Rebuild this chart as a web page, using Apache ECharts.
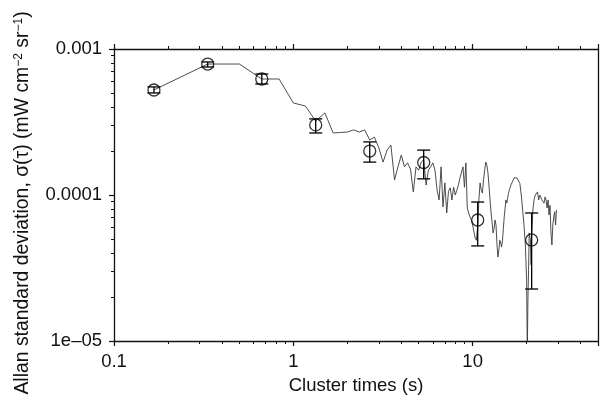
<!DOCTYPE html>
<html lang="en">
<head>
  <meta charset="UTF-8">
  <title>Allan deviation</title>
  <script src="https://cdn.jsdelivr.net/npm/echarts@6/dist/echarts.min.js"></script>
  <style>
    html, body { margin: 0; padding: 0; background: #fff; }
    #chart { width: 601px; height: 405px; }
  </style>
</head>
<body>
  <div id="chart"></div>
  <script>
    // Allan deviation curve (cluster time in s, sigma)
    const lineTau = [0.167, 0.333, 0.5, 0.667, 0.833, 1, 1.167, 1.333, 1.5, 1.667,
      1.833, 2, 2.167, 2.333, 2.5, 2.667, 2.833, 3, 3.167, 3.333,
      3.5, 3.667, 3.833, 4, 4.167, 4.333, 4.5, 4.667, 4.833, 5,
      5.167, 5.333, 5.5, 5.667, 5.833, 6, 6.167, 6.333, 6.5, 6.667,
      6.833, 7, 7.167, 7.333, 7.5, 7.667, 7.833, 8, 8.167, 8.333,
      8.5, 8.667, 8.833, 9, 9.167, 9.333, 9.5, 9.667, 9.833, 10,
      10.17, 10.33, 10.5, 10.67, 10.83, 11, 11.17, 11.33, 11.5, 11.67,
      11.83, 12, 12.17, 12.33, 12.5, 12.67, 12.83, 13, 13.17, 13.33,
      13.5, 13.67, 13.83, 14, 14.17, 14.33, 14.5, 14.67, 14.83, 15,
      15.17, 15.33, 15.5, 15.67, 15.83, 16, 16.17, 16.33, 16.5, 16.67,
      17, 17.33, 17.67, 18, 18.33, 18.67, 19, 19.33, 19.67, 20,
      20.17, 20.33, 20.5, 20.67, 21, 21.17, 21.33, 21.67, 22, 22.33,
      22.67, 23, 23.33, 23.67, 24, 24.33, 24.67, 25, 25.33, 25.67,
      26, 26.33, 26.67, 27, 27.33, 27.67, 28, 28.33, 28.67, 29, 29.33]
    const lineSigma = [5.24e-4, 7.89e-4, 7.89e-4, 6.23e-4, 6.23e-4, 4.27e-4, 4.07e-4, 3.21e-4, 3.65e-4, 2.66e-4,
      2.68e-4, 2.70e-4, 2.79e-4, 2.70e-4, 2.79e-4, 2.38e-4, 2.49e-4, 2.10e-4, 1.68e-4, 2.03e-4,
      2.20e-4, 1.27e-4, 1.56e-4, 1.88e-4, 1.56e-4, 1.66e-4, 1.51e-4, 1.05e-4, 1.56e-4, 1.48e-4,
      1.68e-4, 1.74e-4, 1.17e-4, 1.48e-4, 1.56e-4, 1.66e-4, 1.48e-4, 1.08e-4, 9.25e-5, 1.56e-4,
      8.28e-5, 1.21e-4, 7.53e-5, 1.06e-4, 1.12e-4, 9.25e-5, 1.13e-4, 1.00e-4, 1.08e-4, 1.17e-4,
      1.31e-4, 1.27e-4, 1.56e-4, 1.13e-4, 1.66e-4, 8.15e-5, 7.53e-5, 7.07e-5, 6.74e-5, 6.23e-5,
      5.58e-5, 5.07e-5, 4.90e-5, 6.23e-5, 9.25e-5, 1.21e-4, 1.08e-4, 1.03e-4, 1.27e-4, 1.48e-4,
      1.68e-4, 1.60e-4, 1.42e-4, 1.17e-4, 9.25e-5, 7.53e-5, 6.53e-5, 5.50e-5, 5.90e-5, 6.74e-5,
      6.23e-5, 4.55e-5, 3.76e-5, 4.20e-5, 4.90e-5, 4.70e-5, 4.40e-5, 4.90e-5, 5.90e-5, 7.07e-5,
      8.15e-5, 9.25e-5, 8.80e-5, 9.50e-5, 1.02e-4, 1.08e-4, 1.12e-4, 1.17e-4, 1.19e-4, 1.23e-4,
      1.31e-4, 1.33e-4, 1.31e-4, 1.27e-4, 1.20e-4, 1.00e-4, 7.90e-5, 6.23e-5, 4.55e-5, 2.62e-5,
      8.0e-6, 1.91e-5, 3.06e-5, 5.50e-5, 4.90e-5, 3.32e-5, 5.35e-5, 7.90e-5, 9.25e-5, 1.00e-4,
      9.80e-5, 1.05e-4, 9.25e-5, 1.00e-4, 1.03e-4, 9.25e-5, 9.50e-5, 8.80e-5, 9.70e-5, 9.25e-5,
      8.15e-5, 9.25e-5, 7.30e-5, 8.50e-5, 5.50e-5, 4.55e-5, 6.23e-5, 7.07e-5, 7.68e-5, 6.23e-5, 7.90e-5]

    // octave points with error bars
    const ptTau = [0.167, 0.333, 0.667, 1.333, 2.667, 5.333, 10.67, 21.33]
    const ptSigma = [5.24e-4, 7.89e-4, 6.23e-4, 3.02e-4, 2.0e-4, 1.67e-4, 6.74e-5, 4.92e-5]
    const ptHigh = [5.5e-4, 8.15e-4, 6.74e-4, 3.32e-4, 2.31e-4, 2.03e-4, 8.95e-5, 7.53e-5]
    const ptLow = [5.0e-4, 7.53e-4, 5.76e-4, 2.66e-4, 1.68e-4, 1.29e-4, 4.48e-5, 2.27e-5]

    // tick labels
    const xTickVals = [0.1, 1, 10]
    const xTickText = ['0.1', '1', '10']
    const yTickVals = [1e-5, 1e-4, 1e-3]
    const yTickText = ['1e\u201305', '0.0001', '0.001']
    const xMinorVals = [0.2, 0.3, 0.4, 0.5, 0.6, 0.7, 0.8, 0.9, 2, 3, 4, 5, 6, 7, 8, 9, 20, 30, 40]
    const yMinorVals = [2e-5, 3e-5, 4e-5, 5e-5, 6e-5, 7e-5, 8e-5, 9e-5, 2e-4, 3e-4, 4e-4, 5e-4, 6e-4, 7e-4, 8e-4, 9e-4]

    const X_MIN = 0.1, X_MAX = 50, Y_MIN = 1e-5, Y_MAX = 1e-3
    const font = 'Liberation Sans, Arial, Helvetica, sans-serif'
    const ink = '#111'

    function pickLabel(vals, texts) {
      return function (v) {
        for (let i = 0; i < vals.length; i++) {
          if (Math.abs(Math.log10(v) - Math.log10(vals[i])) < 1e-6) return texts[i]
        }
        return ''
      }
    }

    const myChart = echarts.init(document.getElementById('chart'))

    const axisLine = { show: true, onZero: false, lineStyle: { color: ink, width: 1.3 } }
    // minor ticks drawn on overlay axes (no line) in log10 space
    function minorAxis(position, lo, hi, vals) {
      return {
        type: 'value', position: position, min: Math.log10(lo), max: Math.log10(hi),
        axisLine: { show: false, onZero: false }, splitLine: { show: false }, axisLabel: { show: false },
        axisTick: { show: true, inside: false, length: 3, lineStyle: { color: ink, width: 1 },
          customValues: vals.map(v => Math.log10(v)) }
      }
    }

    const option = {
      animation: false,
      backgroundColor: '#fff',
      grid: { left: 114, right: 1, top: 49, bottom: 64, containLabel: false },
      xAxis: [
        {
          type: 'log', logBase: 10, min: X_MIN, max: X_MAX, position: 'bottom',
          name: 'Cluster times (s)', nameLocation: 'middle', nameGap: 35,
          nameTextStyle: { fontFamily: font, fontSize: 18.5, color: ink },
          axisLine: axisLine,
          axisTick: { show: true, inside: false, length: 5, lineStyle: { color: ink, width: 1.2 } },
          axisLabel: { fontFamily: font, fontSize: 18.5, color: ink, margin: 11,
            formatter: pickLabel(xTickVals, xTickText) },
          splitLine: { show: false }, minorTick: { show: false }
        },
        {
          type: 'log', logBase: 10, min: X_MIN, max: X_MAX, position: 'top',
          axisLine: axisLine,
          axisTick: { show: true, inside: false, length: 5, lineStyle: { color: ink, width: 1.2 } },
          axisLabel: { show: false }, splitLine: { show: false }
        },
        minorAxis('bottom', X_MIN, X_MAX, xMinorVals),
        minorAxis('top', X_MIN, X_MAX, xMinorVals)
      ],
      yAxis: [
        {
          type: 'log', logBase: 10, min: Y_MIN, max: Y_MAX, position: 'left',
          name: 'Allan standard deviation, \u03c3(\u03c4) (mW cm{sup|\u22122} sr{sup|\u22121})',
          nameLocation: 'middle', nameGap: 82, nameRotate: 90,
          nameTextStyle: { fontFamily: font, fontSize: 19.4, color: ink, padding: [0, 16, 0, 0],
            rich: { sup: { fontFamily: font, fontSize: 12, color: ink, verticalAlign: 'top' } } },
          axisLine: axisLine,
          axisTick: { show: true, inside: false, length: 5, lineStyle: { color: ink, width: 1.2 } },
          axisLabel: { fontFamily: font, fontSize: 18.5, color: ink, margin: 12,
            formatter: pickLabel(yTickVals, yTickText) },
          splitLine: { show: false }
        },
        {
          type: 'log', logBase: 10, min: Y_MIN, max: Y_MAX, position: 'right',
          axisLine: axisLine, axisTick: { show: false }, axisLabel: { show: false },
          splitLine: { show: false }
        },
        minorAxis('left', Y_MIN, Y_MAX, yMinorVals)
      ],
      series: [
        {
          name: 'curve', type: 'line', xAxisIndex: 0, yAxisIndex: 0,
          data: lineTau.map((t, i) => [t, lineSigma[i]]),
          symbol: 'none', clip: true,
          lineStyle: { color: '#3a3a3a', width: 0.9 }, z: 2
        },
        {
          name: 'error bars', type: 'custom', xAxisIndex: 0, yAxisIndex: 0,
          data: ptTau.map((t, i) => [t, ptLow[i], ptHigh[i]]),
          renderItem: function (params, api) {
            const top = api.coord([api.value(0), api.value(2)])
            const bot = api.coord([api.value(0), api.value(1)])
            const hw = 6.5
            const st = { stroke: '#000', lineWidth: 1.3 }
            return {
              type: 'group',
              children: [
                { type: 'line', shape: { x1: top[0], y1: top[1], x2: bot[0], y2: bot[1] }, style: st },
                { type: 'line', shape: { x1: top[0] - hw, y1: top[1], x2: top[0] + hw, y2: top[1] }, style: st },
                { type: 'line', shape: { x1: bot[0] - hw, y1: bot[1], x2: bot[0] + hw, y2: bot[1] }, style: st }
              ]
            }
          },
          z: 3
        },
        {
          name: 'points', type: 'scatter', xAxisIndex: 0, yAxisIndex: 0,
          data: ptTau.map((t, i) => [t, ptSigma[i]]),
          symbol: 'circle', symbolSize: 12,
          itemStyle: { color: 'rgba(0,0,0,0)', borderColor: '#000', borderWidth: 1.3 },
          z: 4
        }
      ]
    }
    myChart.setOption(option)
  </script>
</body>
</html>
